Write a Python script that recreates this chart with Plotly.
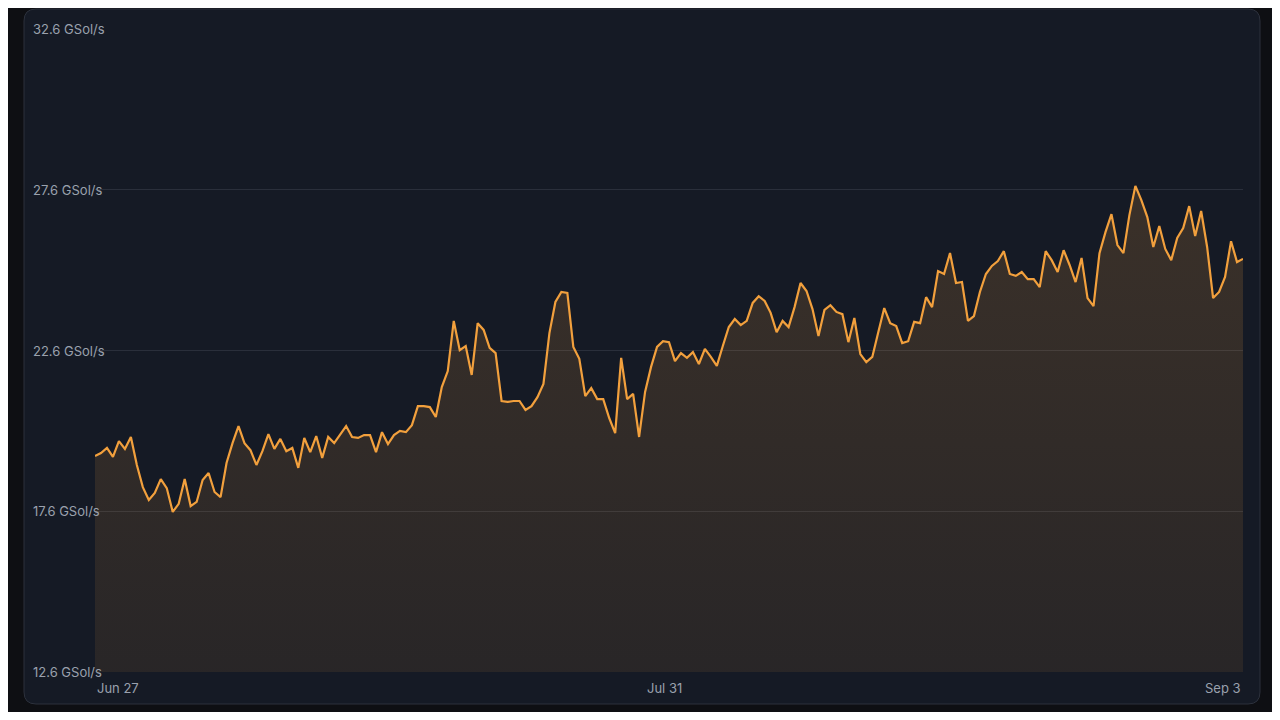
import plotly.graph_objects as go
import pandas as pd

values = [19.32,19.41,19.57,19.29,19.78,19.54,19.91,19.04,18.35,17.95,18.17,18.60,18.32,17.58,17.83,18.60,17.76,17.89,18.57,18.79,18.20,18.04,19.10,19.72,20.25,19.72,19.50,19.04,19.47,20.00,19.54,19.85,19.47,19.57,18.95,19.88,19.44,19.94,19.26,19.91,19.72,20.00,20.25,19.91,19.88,19.97,19.97,19.44,20.06,19.69,19.97,20.10,20.06,20.28,20.87,20.87,20.84,20.53,21.46,21.96,23.52,22.61,22.74,21.84,23.45,23.24,22.68,
22.52,21.03,21.00,21.03,21.03,20.75,20.87,21.15,21.56,23.14,24.11,24.42,24.39,22.71,22.34,21.18,21.43,21.09,21.09,20.50,20.03,22.37,21.09,21.25,19.91,21.31,22.09,22.71,22.89,22.86,22.27,22.52,22.37,22.55,22.18,22.65,22.40,22.12,22.74,23.33,23.58,23.39,23.52,24.08,24.29,24.14,23.77,23.17,23.52,23.33,23.95,24.70,24.45,23.89,23.05,23.86,24.01,23.80,23.73,22.86,23.61,22.49,22.24,22.40,
23.17,23.92,23.45,23.36,22.83,22.89,23.49,23.45,24.26,23.95,25.07,24.98,25.63,24.70,24.73,23.52,23.67,24.42,24.98,25.23,25.38,25.69,24.98,24.92,25.04,24.82,24.82,24.57,25.69,25.41,25.04,25.72,25.26,24.73,25.48,24.23,23.98,25.63,26.28,26.84,25.88,25.63,26.81,27.72,27.28,26.75,25.82,26.47,25.76,25.41,26.10,26.41,27.09,26.16,26.94,25.82,24.23,24.42,24.89,26.00,25.35,25.45]

start_date = "2024-06-27"
end_date = "2024-09-03 12:00"
y_ticks = [12.6, 17.6, 22.6, 27.6, 32.6]
x_ticks = ["2024-06-27", "2024-07-31", "2024-09-03"]
x_tick_labels = ["Jun 27", "Jul 31", "Sep 3"]

dates = pd.date_range(start_date, end_date, periods=len(values))

fig = go.Figure()
fig.add_trace(go.Scatter(
    x=dates, y=values, mode="lines",
    line=dict(color="#f2a03d", width=2.2),
    fill="tozeroy",
    fillgradient=dict(type="vertical",
                      colorscale=[[0, "rgba(242,160,61,0.02)"], [1, "rgba(242,160,61,0.17)"]]),
    hoverinfo="skip",
))

W, H = 1148, 643
def px(v): return v / W
def py(v): return v / H
x0, x1 = px(24 - 95), px(1260 - 95)
y0, y1 = py(672 - 704), py(672 - 9)
rx, ry = px(12), py(12)
path = (f"M {x0+rx},{y0} L {x1-rx},{y0} Q {x1},{y0} {x1},{y0+ry} L {x1},{y1-ry} Q {x1},{y1} {x1-rx},{y1} "
        f"L {x0+rx},{y1} Q {x0},{y1} {x0},{y1-ry} L {x0},{y0+ry} Q {x0},{y0} {x0+rx},{y0} Z")

shapes = [dict(type="path", xref="paper", yref="paper", path=path, layer="below",
               fillcolor="#151a25", line=dict(color="#2c313c", width=1))]
annotations = []
for t in y_ticks:
    annotations.append(dict(xref="paper", yref="y", x=px(31 - 95), y=t, text=f"{t} GSol/s",
                            showarrow=False, xanchor="left", yanchor="middle",
                            font=dict(size=13, color="#9aa1ad")))
anchors = ["left", "center", "right"]
for d, lab, a in zip(x_ticks, x_tick_labels, anchors):
    xv = d if a == "center" else (dates[0] if a == "left" else dates[-1])
    annotations.append(dict(xref="x", yref="paper", x=xv, y=py(-16), text=lab, showarrow=False,
                            xanchor=a, yanchor="middle", font=dict(size=13, color="#9aa1ad")))

fig.update_layout(
    width=1264, height=704,
    margin=dict(l=87, r=29, t=21, b=40),
    paper_bgcolor="#0e0f13", plot_bgcolor="rgba(0,0,0,0)",
    font=dict(family="Inter, Roboto, sans-serif"),
    showlegend=False,
    shapes=shapes, annotations=annotations,
    xaxis=dict(range=[dates[0], dates[-1]], showgrid=False, zeroline=False, showticklabels=False,
               showline=False, fixedrange=True),
    yaxis=dict(range=[12.6, 32.6], tickvals=y_ticks, showticklabels=False, gridcolor="#2a2f3b",
               gridwidth=1, zeroline=False, showline=False, fixedrange=True),
)
fig.write_html("out.html", config={"displayModeBar": False})
